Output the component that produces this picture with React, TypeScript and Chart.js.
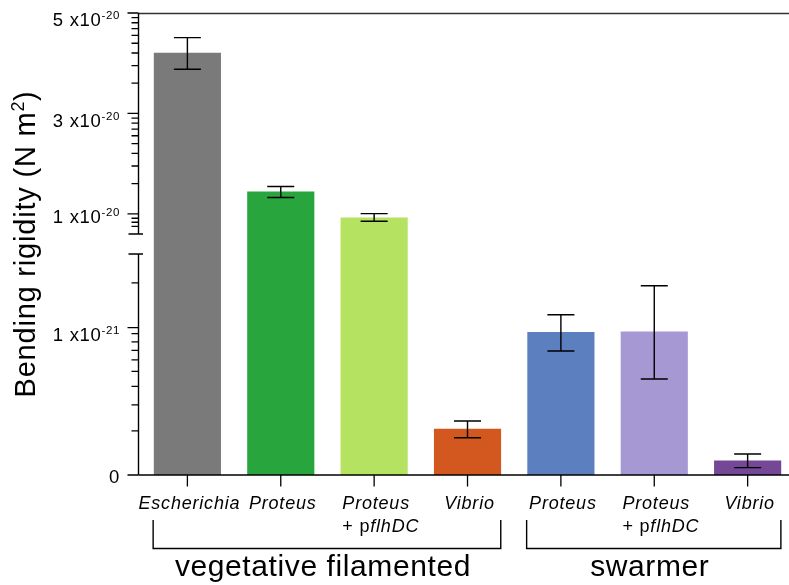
import React, { useEffect, useRef } from 'react';
import { Chart, registerables, LinearScale } from 'chart.js';

// ---------- data ----------
const CATEGORIES = ['Escherichia', 'Proteus', 'Proteus', 'Vibrio', 'Proteus', 'Proteus', 'Vibrio'];
const HAS_PLASMID = [false, false, true, false, false, true, false];
const GROUPS = ['vegetative filamented', 'swarmer'];
const GROUP_MEMBERS = [[0, 1, 2, 3], [4, 5, 6]];
const VALUES = [4.2e-20, 1.44e-20, 0.92e-20, 0.312e-21, 0.969e-21, 0.971e-21, 0.097e-21];
const ERR_HIGH = [4.51e-20, 1.546e-20, 1.006e-20, 0.367e-21, 1.088e-21, 1.285e-21, 0.143e-21];
const ERR_LOW = [3.88e-20, 1.326e-20, 0.854e-20, 0.253e-21, 0.842e-21, 0.652e-21, 0.05e-21];
const COLORS = ['#7a7a7a', '#28a53d', '#b6e261', '#d2581f', '#5b7fbf', '#a598d3', '#754797'];
const MAJOR_TICKS = [0, 1e-21, 1e-20, 3e-20, 5e-20];
const MAJOR_MANTISSA = ['0', '1 x10', '1 x10', '3 x10', '5 x10'];
const MAJOR_EXPONENT = ['', '-21', '-20', '-20', '-20'];
const MINOR_TICKS = [
  0.299e-21, 0.476e-21, 0.601e-21, 0.703e-21, 0.782e-21, 0.846e-21, 0.903e-21, 0.959e-21, 1.304e-21,
  0.75e-20, 0.834e-20, 0.914e-20,
  1.602e-20, 1.954e-20, 2.204e-20, 2.398e-20, 2.556e-20, 2.69e-20, 2.806e-20, 2.908e-20,
  3.602e-20, 3.954e-20, 4.204e-20, 4.398e-20, 4.556e-20, 4.69e-20, 4.806e-20, 4.908e-20,
];

// ---------- broken axis config ----------
const Y_MAX = 5e-20;
const LOW_MAX = 1.5e-21;
const HIGH_MIN = 0.6e-20;
const LOW_FRAC = 221 / 462;
const GAP_FRAC = 20 / 462;

function valueToDecimal(v: number): number {
  const hiFrac = 1 - LOW_FRAC - GAP_FRAC;
  if (v <= LOW_MAX) return (v / LOW_MAX) * LOW_FRAC;
  if (v >= HIGH_MIN) return LOW_FRAC + GAP_FRAC + ((v - HIGH_MIN) / (Y_MAX - HIGH_MIN)) * hiFrac;
  return LOW_FRAC + ((v - LOW_MAX) / (HIGH_MIN - LOW_MAX)) * GAP_FRAC;
}
function decimalToValue(d: number): number {
  const hiFrac = 1 - LOW_FRAC - GAP_FRAC;
  if (d <= LOW_FRAC) return (d / LOW_FRAC) * LOW_MAX;
  if (d >= LOW_FRAC + GAP_FRAC) return HIGH_MIN + ((d - LOW_FRAC - GAP_FRAC) / hiFrac) * (Y_MAX - HIGH_MIN);
  return LOW_MAX + ((d - LOW_FRAC) / GAP_FRAC) * (HIGH_MIN - LOW_MAX);
}

class BrokenScale extends LinearScale {
  static id = 'brokenLinear';
  static defaults = (LinearScale as any).defaults;
  getPixelForValue(value: number) {
    if (value === null || value === undefined || isNaN(value)) return NaN;
    return this.getPixelForDecimal(valueToDecimal(value));
  }
  getValueForPixel(pixel: number) {
    return decimalToValue(this.getDecimalForPixel(pixel));
  }
}

Chart.register(...registerables, BrokenScale as any);

const FONT = '"Liberation Sans", Arial, Helvetica, sans-serif';

type Run = { text: string; font: string; dy?: number; spacing?: number };

function runsWidth(ctx: CanvasRenderingContext2D, runs: Run[]) {
  let w = 0;
  for (const r of runs) {
    ctx.font = r.font;
    (ctx as any).letterSpacing = (r.spacing || 0) + 'px';
    w += ctx.measureText(r.text).width;
  }
  return w;
}
function drawRuns(ctx: CanvasRenderingContext2D, runs: Run[], x: number, y: number, align: 'left' | 'center' | 'right') {
  const w = runsWidth(ctx, runs);
  let cx = align === 'left' ? x : align === 'center' ? x - w / 2 : x - w;
  ctx.textAlign = 'left';
  ctx.textBaseline = 'alphabetic';
  for (const r of runs) {
    ctx.font = r.font;
    (ctx as any).letterSpacing = (r.spacing || 0) + 'px';
    ctx.fillText(r.text, cx, y - (r.dy || 0));
    cx += ctx.measureText(r.text).width;
  }
  (ctx as any).letterSpacing = '0px';
}

const LABEL_DY = [8, 13, 9, 14, 13];
const BAR_WIDTH = 66.5;

const decorPlugin = {
  id: 'decor',
  afterDatasetsDraw(chart: any) {
    const ctx: CanvasRenderingContext2D = chart.ctx;
    const xs = chart.scales.x;
    const ys = chart.scales.y;
    const area = chart.chartArea;
    const axisX = area.left + 0.5;
    ctx.save();
    ctx.strokeStyle = '#000';
    ctx.fillStyle = '#000';

    // error bars
    ctx.lineWidth = 1.4;
    VALUES.forEach((_, i) => {
      const cx = xs.getPixelForValue(i);
      const yh = ys.getPixelForValue(ERR_HIGH[i]);
      const yl = ys.getPixelForValue(ERR_LOW[i]);
      ctx.beginPath();
      ctx.moveTo(cx, yh);
      ctx.lineTo(cx, yl);
      ctx.moveTo(cx - 13.5, yh);
      ctx.lineTo(cx + 13.5, yh);
      ctx.moveTo(cx - 13.5, yl);
      ctx.lineTo(cx + 13.5, yl);
      ctx.stroke();
    });

    // top line
    const yTop = ys.getPixelForValue(Y_MAX);
    ctx.strokeStyle = '#333';
    ctx.lineWidth = 1.6;
    ctx.beginPath();
    ctx.moveTo(axisX, yTop + 0.5);
    ctx.lineTo(area.right, yTop + 0.5);
    ctx.stroke();

    // x axis line
    const y0 = ys.getPixelForValue(0);
    ctx.strokeStyle = '#000';
    ctx.lineWidth = 1.4;
    ctx.beginPath();
    ctx.moveTo(axisX, y0);
    ctx.lineTo(area.right, y0);
    ctx.stroke();

    // y axis segments with break caps
    const yHiMin = ys.getPixelForValue(HIGH_MIN);
    const yLoMax = ys.getPixelForValue(LOW_MAX);
    ctx.beginPath();
    ctx.moveTo(axisX, yTop);
    ctx.lineTo(axisX, yHiMin);
    ctx.moveTo(axisX, yLoMax);
    ctx.lineTo(axisX, y0);
    ctx.moveTo(axisX - 10, yHiMin);
    ctx.lineTo(axisX + 4.5, yHiMin);
    ctx.moveTo(axisX - 10, yLoMax);
    ctx.lineTo(axisX + 4.5, yLoMax);
    ctx.stroke();

    // ticks
    ctx.lineWidth = 1.3;
    ctx.beginPath();
    MAJOR_TICKS.forEach((v) => {
      const p = ys.getPixelForValue(v);
      ctx.moveTo(axisX - 11, p);
      ctx.lineTo(axisX, p);
    });
    MINOR_TICKS.forEach((v) => {
      const p = ys.getPixelForValue(v);
      ctx.moveTo(axisX - 7, p);
      ctx.lineTo(axisX, p);
    });
    VALUES.forEach((_, i) => {
      const cx = xs.getPixelForValue(i);
      ctx.moveTo(cx, y0);
      ctx.lineTo(cx, y0 + 11.5);
    });
    ctx.stroke();

    // y tick labels
    ctx.fillStyle = '#000';
    MAJOR_TICKS.forEach((v, i) => {
      const p = ys.getPixelForValue(v);
      const runs: Run[] = [{ text: MAJOR_MANTISSA[i], font: `18.5px ${FONT}`, spacing: 0.7 }];
      if (MAJOR_EXPONENT[i]) runs.push({ text: MAJOR_EXPONENT[i], font: `11.5px ${FONT}`, dy: 7, spacing: 0.6 });
      drawRuns(ctx, runs, 120, p + LABEL_DY[i], 'right');
    });

    // category labels
    const catFont = `italic 18px ${FONT}`;
    const upFont = `18px ${FONT}`;
    CATEGORIES.forEach((c, i) => {
      const cx = xs.getPixelForValue(i) + 2;
      const l1: Run[] = [{ text: c, font: catFont, spacing: 0.8 }];
      const w1 = runsWidth(ctx, l1);
      drawRuns(ctx, l1, cx, 509, 'center');
      if (HAS_PLASMID[i]) {
        const l2: Run[] = [
          { text: '+ p', font: upFont, spacing: 0.8 },
          { text: 'flhDC', font: catFont, spacing: 0.8 },
        ];
        drawRuns(ctx, l2, cx - w1 / 2, 532, 'left');
      }
    });

    // brackets + group labels
    ctx.lineWidth = 1.4;
    GROUP_MEMBERS.forEach((m, g) => {
      const x1 = xs.getPixelForValue(m[0]) - BAR_WIDTH / 2 - 1;
      const x2 = xs.getPixelForValue(m[m.length - 1]) + BAR_WIDTH / 2;
      ctx.beginPath();
      ctx.moveTo(x1, 520);
      ctx.lineTo(x1, 548.5);
      ctx.lineTo(x2, 548.5);
      ctx.lineTo(x2, 520);
      ctx.stroke();
      drawRuns(ctx, [{ text: GROUPS[g], font: `30px ${FONT}`, spacing: 0.6 }], (x1 + x2) / 2 - 4, 576, 'center');
    });

    // y title
    ctx.save();
    ctx.translate(35, 244);
    ctx.rotate(-Math.PI / 2);
    drawRuns(
      ctx,
      [
        { text: 'Bending rigidity (N m', font: `29px ${FONT}`, spacing: 0.8 },
        { text: '2', font: `18px ${FONT}`, dy: 11, spacing: 0.6 },
        { text: ')', font: `29px ${FONT}`, spacing: 0.8 },
      ],
      0,
      0,
      'center'
    );
    ctx.restore();

    ctx.restore();
  },
};

export default function App() {
  const ref = useRef<HTMLCanvasElement | null>(null);
  useEffect(() => {
    if (!ref.current) return;
    const chart = new Chart(ref.current, {
      type: 'bar',
      data: {
        datasets: [
          {
            data: VALUES.map((v, i) => ({ x: i, y: v })),
            backgroundColor: COLORS,
            borderWidth: 0,
            barThickness: BAR_WIDTH,
          } as any,
        ],
      },
      options: {
        animation: false,
        responsive: false,
        events: [],
        layout: { padding: { left: 138, top: 13, right: 0, bottom: 110 } },
        plugins: { legend: { display: false }, tooltip: { enabled: false } },
        scales: {
          x: { type: 'linear', offset: false, min: -0.529, max: 6.443, display: false },
          y: { type: 'brokenLinear' as any, min: 0, max: Y_MAX, display: false },
        },
      },
      plugins: [decorPlugin],
    });
    return () => chart.destroy();
  }, []);
  return (
    <div style={{ position: 'absolute', left: 0, top: 0, width: 789, height: 585 }}>
      <canvas ref={ref} width={789} height={585} style={{ display: 'block' }} />
    </div>
  );
}
